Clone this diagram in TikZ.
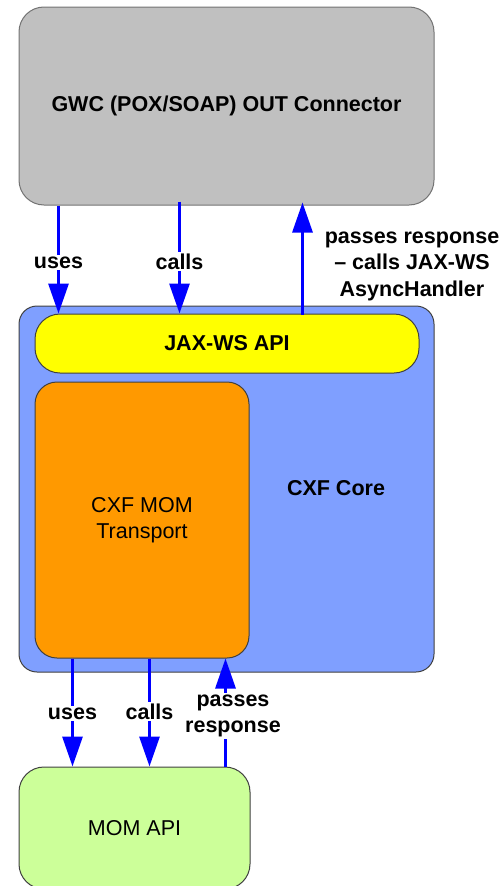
\documentclass[tikz,border=0pt]{standalone}
\usepackage{fontspec}
\setmainfont{Liberation Sans}
\usetikzlibrary{arrows.meta}
\definecolor{gwcgray}{HTML}{C0C0C0}
\definecolor{coreblue}{HTML}{7F9FFF}
\definecolor{jaxyellow}{HTML}{FFFF00}
\definecolor{momorange}{HTML}{FF9900}
\definecolor{momgreen}{HTML}{CCFF99}
\definecolor{arrblue}{HTML}{0000FF}
\tikzset{
  box/.style={draw=black!75, line width=1pt, inner sep=0pt, align=center,
    font=\fontsize{21.5}{26.5}\selectfont},
  lbl/.style={font=\fontsize{21.5}{26.5}\selectfont\bfseries, align=center, inner sep=1.5pt},
  onarrow/.style={lbl, fill=white},
  arr/.style={draw=arrblue, line width=3pt, -{Triangle[length=30pt,width=20pt]}},
}
\begin{document}
\begin{tikzpicture}[x=1pt,y=-1pt]
\useasboundingbox (0,0) rectangle (502,886);
% boxes
\node[box, fill=gwcgray, draw=black!55, rounded corners=25pt, minimum width=415pt, minimum height=198pt,
  font=\fontsize{21.5}{26.5}\selectfont\bfseries] (gwc) at (226.5,106) {GWC (POX/SOAP) OUT Connector};
\node[box, fill=coreblue, rounded corners=18pt, minimum width=415pt, minimum height=366pt] (core) at (226.5,489) {};
\node[lbl] (corelabel) at (336,488) {CXF Core};
\node[box, fill=jaxyellow, rounded corners=25pt, minimum width=384pt, minimum height=59pt,
  font=\fontsize{21.5}{26.5}\selectfont\bfseries] (jax) at (227,343.5) {JAX-WS API};
\node[box, fill=momorange, rounded corners=22pt, minimum width=214pt, minimum height=276pt] (mt) at (142,520) {CXF MOM\\Transport};
\node[box, fill=momgreen, rounded corners=25pt, minimum width=231pt, minimum height=122pt] (momapi) at (134.5,828) {MOM API};
% top arrows
\draw[arr] ([xshift=40pt]gwc.south west) -- ([xshift=24pt]jax.north west)
  node[onarrow, pos=0.5, yshift=-3pt] (usestop) {uses};
\draw[arr] ([xshift=161pt,yshift=4pt]gwc.south west) -- ([xshift=145pt]jax.north west)
  node[onarrow, pos=0.5, yshift=-4pt] (callstop) {calls};
\draw[arr] ([xshift=268pt,yshift=-1pt]jax.north west) -- ([xshift=284pt,yshift=3pt]gwc.south west);
\node[lbl] (resptop) at (412,266) {passes response\\– calls JAX-WS\\AsyncHandler};
% bottom arrows
\draw[arr] ([xshift=38pt]mt.south west) -- ([xshift=54pt]momapi.north west)
  node[onarrow, pos=0.5, yshift=-1pt] (usesbot) {uses};
\draw[arr] ([xshift=115pt]mt.south west) -- ([xshift=131pt]momapi.north west)
  node[onarrow, pos=0.49] (callsbot) {calls};
\draw[arr] ([xshift=207pt]momapi.north west) -- ([xshift=191pt]mt.south west);
\node[onarrow] (respbot) at (233,716) {passes\\response};
\end{tikzpicture}
\end{document}
